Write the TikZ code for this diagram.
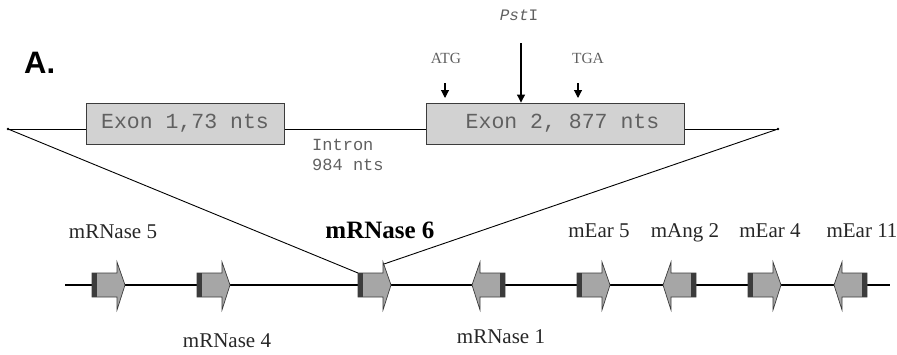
\documentclass[tikz,border=0pt]{standalone}
\usepackage{fontspec}
\setmainfont{Liberation Serif}
\newfontfamily\monofont{Liberation Mono}
\newfontfamily\panelfont{Liberation Sans}
\usetikzlibrary{arrows.meta,positioning,calc}
\definecolor{colexon}{HTML}{D2D2D2}
\definecolor{colgene}{HTML}{A6A6A6}
\definecolor{colband}{HTML}{3C3C3C}
\definecolor{colmono}{HTML}{606060}
\definecolor{collabel}{HTML}{262626}

% gen hacia la derecha: #1 = borde izquierdo, #2 = nombre
\newcommand{\genefwd}[2]{%
  \filldraw[fill=colgene,draw=colband,line width=0.7pt]
    (#1,273) -- (#1+25,273) -- (#1+25,262) -- (#1+33,285)
    -- (#1+25,310) -- (#1+25,297) -- (#1,297) -- cycle;
  \fill[colband] (#1,273) rectangle (#1+5,297);
  \coordinate (#2-nw) at (#1,273);
  \coordinate (#2-barb) at (#1+26,264);
}
% gen hacia la izquierda
\newcommand{\generev}[2]{%
  \filldraw[fill=colgene,draw=colband,line width=0.7pt]
    (#1+33,273) -- (#1+8,273) -- (#1+8,262) -- (#1,285)
    -- (#1+8,310) -- (#1+8,297) -- (#1+33,297) -- cycle;
  \fill[colband] (#1+28,273) rectangle (#1+33,297);
  \coordinate (#2-nw) at (#1+8,273);
}

\begin{document}
\begin{tikzpicture}[
  x=1pt, y=-1pt,
  exonbox/.style={draw=colband,fill=colexon,line width=0.9pt,minimum height=41pt,
    inner sep=0pt,text=colmono,font=\monofont\fontsize{21.5}{24}\selectfont},
  genelabel/.style={anchor=base,text=collabel,font=\fontsize{21}{24}\selectfont},
  sitelabel/.style={anchor=base,text=colmono,font=\fontsize{15.5}{18}\selectfont},
  site/.style={-{Triangle[length=8pt,width=8pt]},line width=1.1pt},
]
  \useasboundingbox (0,0) rectangle (897,354);

  \node[anchor=base west,inner sep=0pt,font=\panelfont\bfseries\fontsize{31}{34}\selectfont]
    (panel) at (24,73) {A.};

  % estructura del gen
  \coordinate (gstart) at (8,129);
  \coordinate (gend) at (778,129);
  \draw[line width=0.9pt] (gstart) -- (gend);
  \fill (gstart) circle (1.3pt) (gend) circle (1.3pt);

  \node[exonbox,minimum width=198pt] (exon1) at (185,123.5) {Exon 1,73 nts};
  \node[exonbox,minimum width=258pt] (exon2) at (555,123.5) {\hspace{15pt}Exon 2, 877 nts};

  \node[anchor=north west,inner sep=0pt,align=left,text=colmono,
        font=\monofont\fontsize{17}{20}\selectfont] (intron) at (312,139)
        {Intron\\984 nts};

  \node[sitelabel] (atg) at (446,63) {ATG};
  \node[sitelabel] (tga) at (588,63) {TGA};
  \node[anchor=base,inner sep=0pt,text=colmono,font=\monofont\fontsize{16}{18}\selectfont]
    (pst) at (519,20) {\textit{Pst}I};

  \coordinate (atg-top) at (445,83);
  \coordinate (tga-top) at (578,83);
  \coordinate (pst-top) at (521,43);
  \draw[site] (atg-top) -- (445,98);
  \draw[site] (tga-top) -- (578,98);
  \draw[site] (pst-top) -- (exon2.north -| pst-top);

  % cromosoma
  \coordinate (cstart) at (65,285);
  \coordinate (cend) at (890,285);
  \draw[line width=2.4pt] (cstart) -- (cend);

  \genefwd{92}{r5}
  \genefwd{197}{r4}
  \genefwd{358}{r6}
  \generev{472}{r1}
  \genefwd{577}{e5}
  \generev{663}{a2}
  \genefwd{748}{e4}
  \generev{834}{e11}

  \draw[line width=0.9pt] (gstart) -- (r6-nw);
  \draw[line width=0.9pt] (gend) -- (r6-barb);

  \node[genelabel] (lr5) at (113,238) {mRNase 5};
  \node[genelabel,font=\bfseries\fontsize{25}{28}\selectfont,text=black] (lr6) at (380,238) {mRNase 6};
  \node[genelabel] (lr4) at (227,347) {mRNase 4};
  \node[genelabel] (lr1) at (501,343) {mRNase 1};
  \node[genelabel] (le5) at (599,237) {mEar 5};
  \node[genelabel] (la2) at (685,237) {mAng 2};
  \node[genelabel] (le4) at (770,237) {mEar 4};
  \node[genelabel] (le11) at (862,237) {mEar 11};
\end{tikzpicture}
\end{document}
